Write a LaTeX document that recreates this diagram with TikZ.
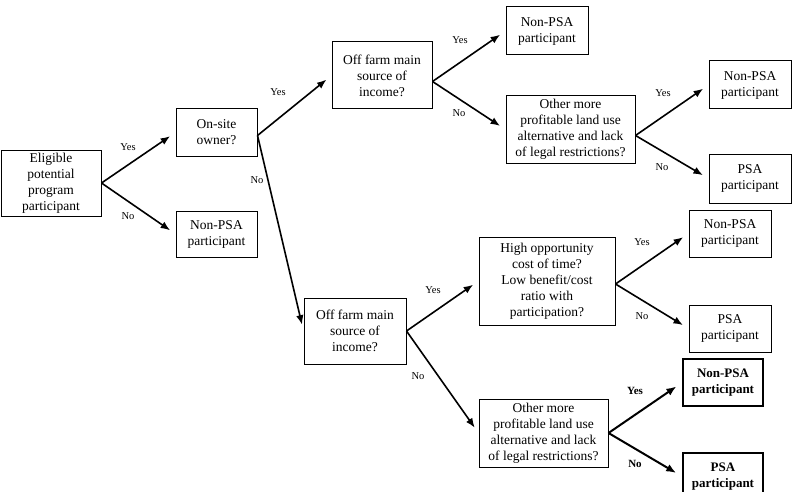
\documentclass[tikz,border=0pt]{standalone}
\usepackage{fontspec}
\setmainfont{Liberation Serif}
\usetikzlibrary{arrows.meta}
\begin{document}
\begin{tikzpicture}[x=1pt,y=-1pt,
  box/.style={draw,line width=1pt,inner sep=0pt,align=center,font=\fontsize{13.5}{16}\selectfont},
  boldbox/.style={draw,line width=1.6pt,inner sep=0pt,align=center,font=\fontsize{13}{16}\selectfont\bfseries},
  arr/.style={line width=1.6pt,-{Latex[length=9.5pt,width=7.5pt]},shorten >=6.5pt},
  boldarr/.style={line width=2pt,-{Latex[length=10pt,width=8pt]},shorten >=7pt},
  lbl/.style={inner sep=0pt,font=\fontsize{10.5}{12}\selectfont},
  boldlbl/.style={inner sep=0pt,font=\fontsize{11}{12}\selectfont\bfseries}]
\useasboundingbox (0,0) rectangle (792,492);
\clip (0,0) rectangle (792,492);
% boxes
\node[box,minimum width=100pt,minimum height=66pt] (e) at (51,183) {Eligible\\potential\\program\\participant};
\node[box,minimum width=81pt,minimum height=47pt] (o) at (216.5,132.5) {On-site\\owner?};
\node[box,minimum width=81pt,minimum height=46pt] (n1) at (216.5,234) {Non-PSA\\participant};
\node[box,minimum width=100pt,minimum height=67pt] (f1) at (382,75.5) {Off farm main\\source of\\income?};
\node[box,minimum width=82pt,minimum height=48pt] (n2) at (547,31) {Non-PSA\\participant};
\node[box,minimum width=129pt,minimum height=67pt] (a1) at (570.5,129.5) {Other more\\profitable land use\\alternative and lack\\of legal restrictions?};
\node[box,minimum width=82pt,minimum height=48pt] (n3) at (750,85) {Non-PSA\\participant};
\node[box,minimum width=82pt,minimum height=49pt] (p1) at (750,178.5) {PSA\\participant};
\node[box,minimum width=102pt,minimum height=66pt] (f2) at (355,331) {Off farm main\\source of\\income?};
\node[box,minimum width=136pt,minimum height=88pt] (h) at (547,281) {High opportunity\\cost of time?\\Low benefit/cost\\ratio with\\participation?};
\node[box,minimum width=82pt,minimum height=47pt] (n4) at (730,233.5) {Non-PSA\\participant};
\node[box,minimum width=82pt,minimum height=47pt] (p2) at (730,328.5) {PSA\\participant};
\node[box,minimum width=129pt,minimum height=68pt] (a2) at (543.5,433) {Other more\\profitable land use\\alternative and lack\\of legal restrictions?};
\node[boldbox,minimum width=80pt,minimum height=47pt] (n5) at (723,382.5) {Non-PSA\\participant};
\node[boldbox,minimum width=80pt,minimum height=47pt] (p3) at (723,476.5) {PSA\\participant};
% connectors
\draw[arr] (e.east) -- (o.west);
\draw[arr] (e.east) -- (n1.west);
\draw[arr] ([yshift=-3pt]o.east) -- (f1.west);
\draw[arr] ([yshift=-3pt]o.east) -- (f2.west);
\draw[arr] ([yshift=-6pt]f1.east) -- (n2.west);
\draw[arr] ([yshift=-6pt]f1.east) -- (a1.west);
\draw[arr] ([yshift=-6pt]a1.east) -- (n3.west);
\draw[arr] ([yshift=-6pt]a1.east) -- (p1.west);
\draw[arr] (f2.east) -- (h.west);
\draw[arr] (f2.east) -- (a2.west);
\draw[arr] ([yshift=-3pt]h.east) -- (n4.west);
\draw[arr] ([yshift=-3pt]h.east) -- (p2.west);
\draw[boldarr] (a2.east) -- (n5.west);
\draw[boldarr] (a2.east) -- (p3.west);
% labels
\node[lbl] (l1) at (128,147) {Yes};
\node[lbl] (l2) at (128,216) {No};
\node[lbl] (l3) at (278,92) {Yes};
\node[lbl] (l4) at (257,180) {No};
\node[lbl] (l5) at (460,40) {Yes};
\node[lbl] (l6) at (459,113) {No};
\node[lbl] (l7) at (663,93) {Yes};
\node[lbl] (l8) at (662,167) {No};
\node[lbl] (l9) at (433,290) {Yes};
\node[lbl] (l10) at (418,376) {No};
\node[lbl] (l11) at (642,242) {Yes};
\node[lbl] (l12) at (642,316) {No};
\node[boldlbl] (l13) at (635,391) {Yes};
\node[boldlbl] (l14) at (635,464) {No};
\end{tikzpicture}
\end{document}
